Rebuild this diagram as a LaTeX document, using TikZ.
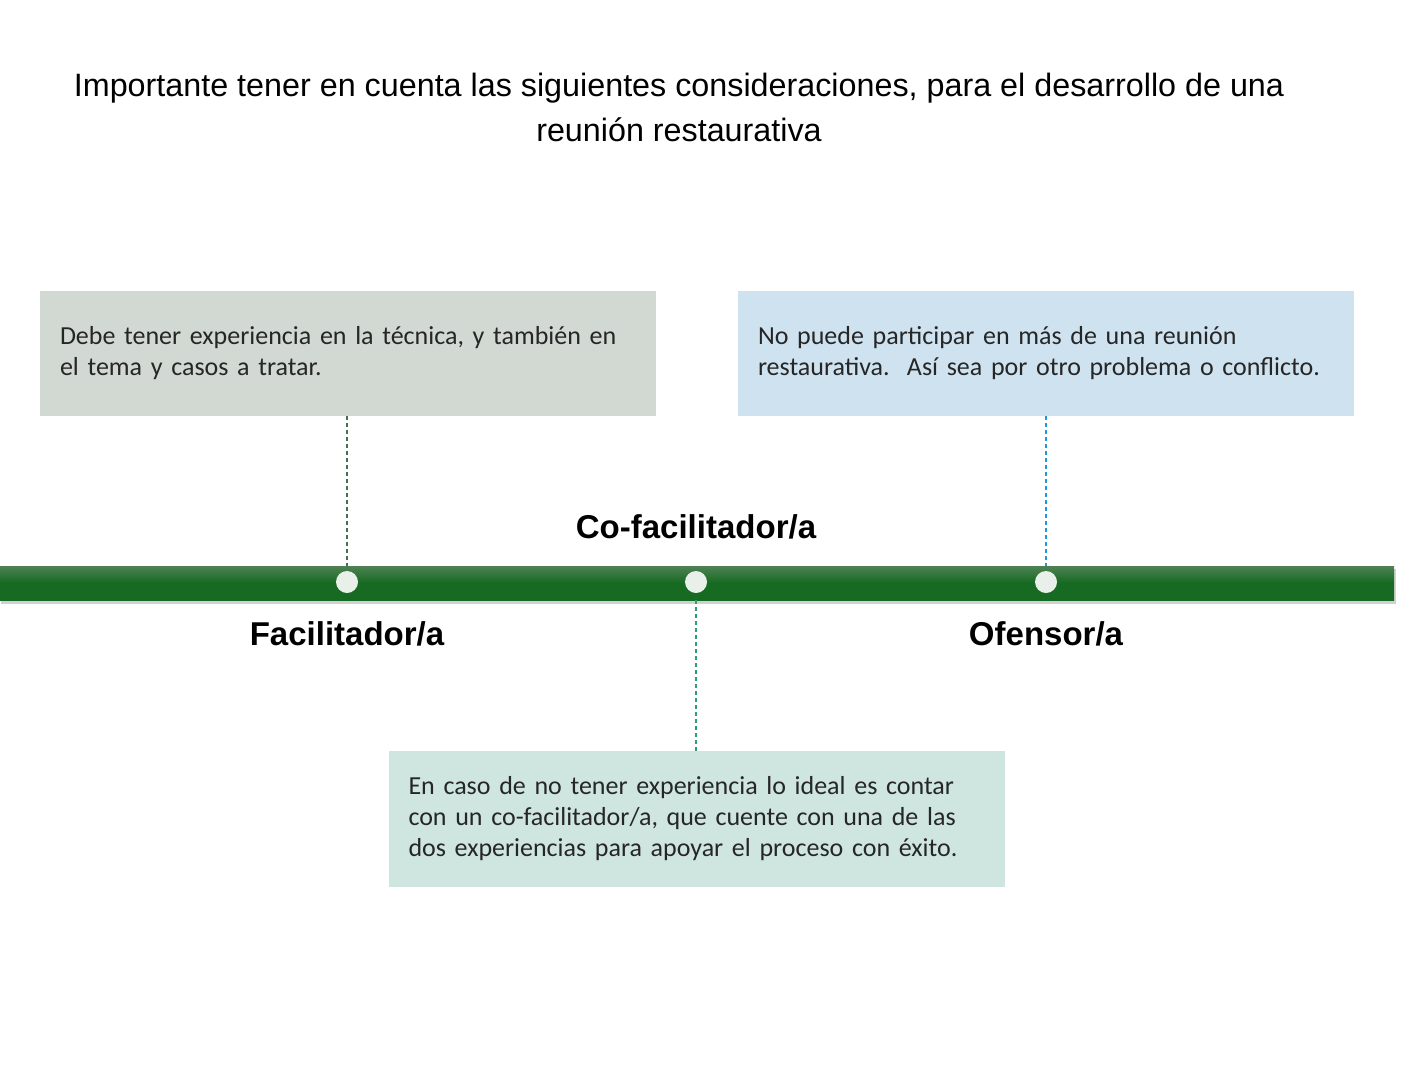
\documentclass[tikz,border=0pt]{standalone}
\usepackage{fontspec}
\setmainfont{Liberation Sans}
\newfontfamily\boxfont{Carlito}
\usetikzlibrary{positioning}

\definecolor{boxgrey}{RGB}{209,217,210}
\definecolor{boxblue}{RGB}{207,226,240}
\definecolor{boxmint}{RGB}{206,230,223}
\definecolor{bargreen}{RGB}{22,106,33}
\definecolor{barlight}{RGB}{78,130,84}
\definecolor{dotfill}{RGB}{232,240,233}
\definecolor{dashgrey}{RGB}{70,110,80}
\definecolor{dashblue}{RGB}{30,150,224}
\definecolor{dashteal}{RGB}{40,160,122}

\tikzset{
  notebox/.style={rectangle, minimum width=616, minimum height=125,
    text width=576, inner xsep=20, inner ysep=0, align=left,
    font=\boxfont\fontsize{26}{31}\selectfont, text=black!85},
  rolelabel/.style={font=\bfseries\fontsize{33}{38}\selectfont},
  bardot/.style={circle, fill=dotfill, minimum size=22, inner sep=0},
  leader/.style={dashed, dash pattern=on 4 off 3, line width=1.1}
}

\begin{document}
\begin{tikzpicture}[x=1pt, y=-1pt]
    % Area del disegno
    \useasboundingbox (0,0) rectangle (1410,1080);

    % Titolo
    \node[font=\fontsize{32.3}{45}\selectfont, align=center] (title) at (679,107)
      {Importante tener en cuenta las siguientes consideraciones, para el desarrollo de una\\reunión restaurativa};

    % Linea del tempo
    \fill[black!30, opacity=0.6] (1,569) rectangle (1396,604);
    \node[rectangle, minimum width=1394, minimum height=34, inner sep=0,
      top color=barlight, bottom color=bargreen, middle color=bargreen,
      shading angle=0] (bar) at (697,583) {};

    % Punti
    \node[bardot] (dotfac) at (347,582) {};
    \node[bardot] (dotcofac) at (696,582) {};
    \node[bardot] (dotofe) at (1046,582) {};

    % Riquadri
    \node[notebox, fill=boxgrey] (boxfac) at (348,353.5)
      {Debe tener experiencia en la técnica, y también en\\el tema y casos a tratar.};
    \node[notebox, fill=boxblue] (boxofe) at (1046,353.5)
      {No puede participar en más de una reunión\\restaurativa.\ \ Así sea por otro problema o conflicto.};
    \node[notebox, fill=boxmint, minimum height=136] (boxcofac) at (696.5,819)
      {En caso de no tener experiencia lo ideal es contar\\con un co-facilitador/a, que cuente con una de las\\dos experiencias para apoyar el proceso con éxito.};

    % Etichette
    \node[rolelabel] (labfac) at (347,634) {Facilitador/a};
    \node[rolelabel] (labcofac) at (696,527) {Co-facilitador/a};
    \node[rolelabel] (labofe) at (1046,634) {Ofensor/a};

    % Collegamenti tratteggiati
    \draw[leader, dashgrey] (boxfac.south -| dotfac) -- (bar.north -| dotfac);
    \draw[leader, dashblue] (boxofe.south -| dotofe) -- (bar.north -| dotofe);
    \draw[leader, dashteal] (bar.south -| dotcofac) -- (boxcofac.north -| dotcofac);

\end{tikzpicture}
\end{document}
